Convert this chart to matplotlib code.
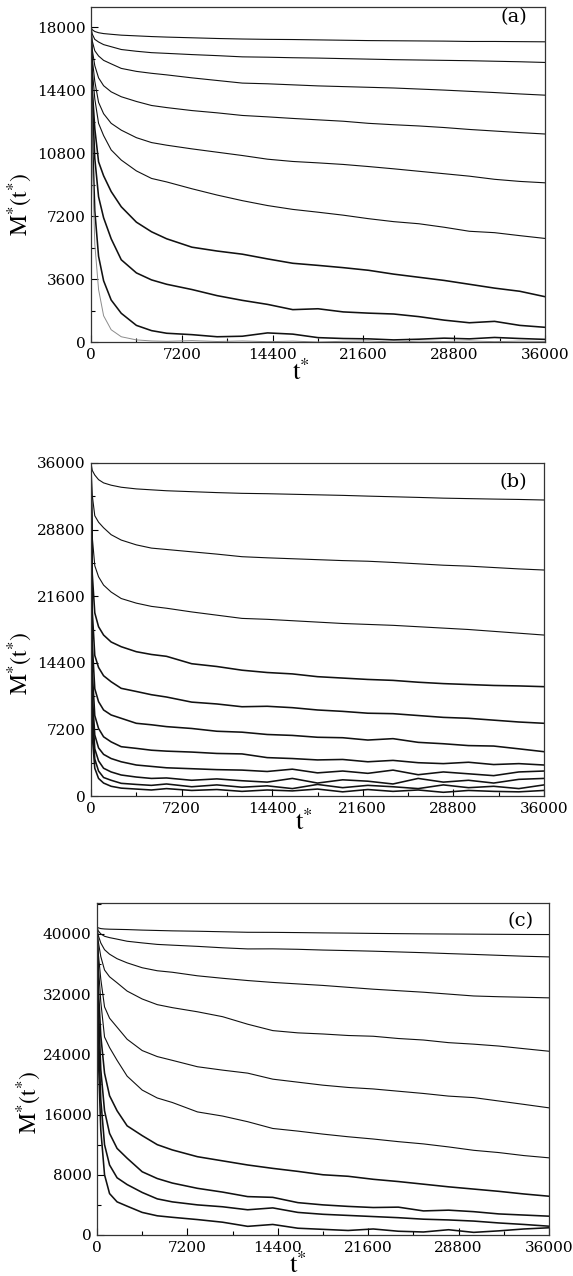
"""Relaxation curves M*(t*) for three system sizes, panels (a)-(c)."""
import matplotlib
import numpy as np

matplotlib.use("Agg")
from matplotlib import pyplot as plt
from matplotlib.ticker import MultipleLocator

# common time grid the curves were read on
t_star = [0, 100, 300, 600, 1000, 1600, 2400, 3600, 4800, 6000, 8000, 10000, 12000,
          14000, 16000, 18000, 20000, 22000, 24000, 26000, 28000, 30000, 32000, 34000, 36000]

# panel (a)
a_curves = [
    [18000, 17850, 17750, 17680, 17630, 17590, 17540, 17500, 17460, 17430, 17390, 17350, 17320,
     17300, 17290, 17270, 17250, 17230, 17220, 17210, 17200, 17180, 17180, 17170, 17160],
    [18000, 17600, 17300, 17150, 17000, 16880, 16720, 16620, 16540, 16500, 16430, 16370, 16300,
     16280, 16250, 16230, 16200, 16170, 16140, 16120, 16100, 16080, 16050, 16020, 15980],
    [18000, 17200, 16650, 16350, 16100, 15900, 15640, 15470, 15360, 15270, 15100, 14950, 14800,
     14760, 14700, 14640, 14600, 14560, 14520, 14460, 14400, 14330, 14260, 14180, 14110],
    [18000, 16700, 15800, 15100, 14650, 14300, 14020, 13750, 13520, 13400, 13230, 13100, 12950,
     12870, 12780, 12700, 12620, 12500, 12420, 12350, 12260, 12150, 12060, 11970, 11890],
    [18000, 16200, 14900, 13700, 13050, 12500, 12110, 11680, 11400, 11250, 11040, 10850, 10660,
     10450, 10320, 10240, 10150, 10030, 9900, 9760, 9620, 9480, 9300, 9180, 9100],
    [18000, 15600, 13900, 12500, 11800, 10980, 10400, 9780, 9350, 9150, 8760, 8400, 8080,
     7800, 7580, 7420, 7250, 7050, 6880, 6760, 6560, 6330, 6250, 6080, 5920],
    [18000, 14500, 12200, 10300, 9500, 8600, 7730, 6850, 6300, 5900, 5420, 5200, 5020,
     4750, 4500, 4380, 4250, 4100, 3880, 3700, 3520, 3300, 3080, 2900, 2590],
    [18000, 14000, 10500, 8300, 7100, 5900, 4700, 3950, 3550, 3300, 3000, 2650, 2380,
     2150, 1850, 1900, 1720, 1650, 1600, 1450, 1250, 1100, 1180, 950, 840],
    [18000, 12000, 7500, 4900, 3500, 2400, 1640, 950, 650, 500, 420, 300, 330,
     520, 450, 250, 200, 180, 120, 160, 220, 180, 260, 200, 150],
    [18000, 10500, 5600, 3000, 1500, 700, 300, 120, 60, 40, 80, 30, 60,
     20, 50, 0, 40, 60, 0, 50, 30, 60, 20, 50, 30],
]

# panel (b)
b_curves = [
    [36000, 35200, 34700, 34200, 33850, 33600, 33380, 33200, 33100, 33000, 32900, 32800, 32720,
     32680, 32620, 32560, 32500, 32420, 32350, 32280, 32200, 32150, 32100, 32060, 32000],
    [36000, 32500, 30300, 29600, 29000, 28250, 27670, 27150, 26800, 26650, 26400, 26150, 25870,
     25750, 25650, 25550, 25450, 25380, 25250, 25100, 24950, 24850, 24700, 24550, 24430],
    [36000, 28000, 24900, 23700, 22800, 22050, 21350, 20850, 20500, 20300, 19900, 19550, 19200,
     19100, 18950, 18800, 18650, 18550, 18450, 18300, 18150, 18000, 17800, 17600, 17400],
    [36000, 24000, 19800, 18300, 17400, 16650, 16140, 15600, 15300, 15100, 14300, 14000, 13600,
     13350, 13200, 12900, 12750, 12600, 12500, 12300, 12150, 12050, 11950, 11900, 11820],
    [36000, 20000, 15200, 13900, 13000, 12350, 11640, 11300, 10950, 10700, 10150, 9950, 9650,
     9700, 9550, 9300, 9150, 8950, 8900, 8700, 8500, 8400, 8200, 8000, 7860],
    [36000, 16500, 11600, 10200, 9300, 8760, 8400, 7860, 7700, 7500, 7300, 7000, 6900,
     6650, 6550, 6350, 6300, 6050, 6200, 5800, 5650, 5450, 5400, 5100, 4790],
    [36000, 13500, 8700, 7300, 6400, 5850, 5330, 5150, 4950, 4850, 4750, 4600, 4550,
     4150, 4050, 3900, 3950, 3700, 3850, 3600, 3500, 3650, 3400, 3500, 3350],
    [36000, 11000, 6600, 5200, 4500, 4050, 3700, 3350, 3200, 3050, 2950, 2850, 2800,
     2650, 2900, 2500, 2700, 2450, 2800, 2300, 2600, 2400, 2200, 2600, 2700],
    [36000, 9500, 5100, 3800, 3000, 2600, 2270, 2050, 1900, 1950, 1700, 1850, 1650,
     1500, 1900, 1400, 1750, 1600, 1300, 1900, 1500, 1700, 1400, 1800, 1900],
    [36000, 8000, 4000, 2700, 2000, 1700, 1370, 1250, 1150, 1300, 1000, 1200, 950,
     1100, 800, 1250, 900, 1150, 1000, 800, 1200, 900, 1050, 800, 1200],
    [36000, 6500, 3000, 1900, 1400, 1050, 850, 750, 650, 800, 600, 700, 500,
     650, 550, 750, 450, 700, 500, 650, 400, 600, 500, 450, 600],
]

# panel (c)
c_curves = [
    [40900, 40800, 40700, 40650, 40620, 40600, 40570, 40500, 40450, 40400, 40350, 40280, 40210,
     40200, 40170, 40130, 40100, 40060, 40030, 40000, 39980, 39960, 39940, 39920, 39910],
    [40900, 40400, 40000, 39680, 39500, 39300, 39020, 38800, 38600, 38500, 38340, 38150, 38000,
     38010, 37950, 37850, 37780, 37700, 37600, 37500, 37380, 37270, 37150, 37030, 36940],
    [40900, 39800, 38800, 37900, 37300, 36700, 36150, 35500, 35100, 34900, 34430, 34100, 33800,
     33550, 33350, 33150, 32900, 32650, 32450, 32250, 32000, 31750, 31650, 31580, 31500],
    [40900, 39000, 37000, 35200, 34300, 33500, 32400, 31350, 30600, 30200, 29650, 29000, 28000,
     27150, 26850, 26700, 26500, 26400, 26100, 25900, 25550, 25350, 25100, 24750, 24410],
    [40900, 37500, 34000, 30300, 28800, 27600, 26000, 24500, 23700, 23200, 22350, 21900, 21500,
     20700, 20300, 19900, 19600, 19400, 19100, 18800, 18450, 18250, 17800, 17350, 16890],
    [40900, 36000, 31000, 26300, 24900, 23200, 21100, 19250, 18200, 17600, 16350, 15800, 15050,
     14150, 13800, 13400, 13050, 12750, 12400, 12100, 11700, 11250, 10950, 10550, 10250],
    [40900, 33000, 26500, 21500, 18500, 16500, 14500, 13200, 12000, 11300, 10400, 9850, 9300,
     8850, 8450, 8000, 7800, 7400, 7100, 6750, 6400, 6100, 5800, 5450, 5150],
    [40900, 31000, 22000, 16500, 13500, 11500, 10200, 8400, 7500, 6900, 6200, 5700, 5100,
     5000, 4300, 4000, 3800, 3650, 3700, 3200, 3300, 3100, 2800, 2650, 2500],
    [40900, 28000, 18000, 12000, 9300, 7600, 6700, 5650, 4800, 4400, 4000, 3750, 3350,
     3600, 3000, 2750, 2600, 2450, 2300, 2100, 2000, 1850, 1600, 1400, 1170],
    [40900, 24000, 14000, 8000, 5500, 4400, 3830, 3000, 2550, 2350, 2050, 1700, 1150,
     1400, 900, 750, 600, 800, 500, 400, 700, 350, 550, 800, 960],
]

x_ticks = [0, 7200, 14400, 21600, 28800, 36000]
a_yticks = [0, 3600, 7200, 10800, 14400, 18000]
b_yticks = [0, 7200, 14400, 21600, 28800, 36000]
c_yticks = [0, 8000, 16000, 24000, 32000, 40000]

plt.rcParams["font.family"] = ["DejaVu Serif"]
plt.rcParams["mathtext.fontset"] = "stix"

W, H = 573, 1276
fig = plt.figure(figsize=(W / 100, H / 100), dpi=100)


def px_axes(left, top, right, bottom):
    return fig.add_axes([left / W, 1 - bottom / H, (right - left) / W, (bottom - top) / H])


def draw_panel(ax, curves, yticks, ymax, tag, tag_xy, xlab_xy, ylab_xy, thick_from):
    for i, vals in enumerate(curves):
        fast = i == len(curves) - 1 and tag == "(a)"
        if fast:
            color, lw = "0.55", 0.7
        else:
            color, lw = "#111111", (1.15 if i >= thick_from else 0.8)
        ax.plot(t_star, vals, color=color, linewidth=lw, solid_joinstyle="round")
    ax.set_xlim(0, 36000)
    ax.set_ylim(0, ymax)
    ax.set_xticks(x_ticks)
    ax.set_yticks(yticks)
    ax.xaxis.set_minor_locator(MultipleLocator(3600))
    ax.yaxis.set_minor_locator(MultipleLocator(yticks[1] / 2))
    ax.tick_params(which="both", direction="in", top=False, right=False,
                   labelsize=11, pad=4, width=0.8)
    ax.tick_params(which="major", length=5)
    ax.tick_params(which="minor", length=3)
    for s in ax.spines.values():
        s.set_linewidth(0.9)
        s.set_color("#333333")
    ax.text(*tag_xy, tag, transform=ax.transAxes, ha="center", va="center", fontsize=14)
    ax.text(*xlab_xy, r"$\mathrm{t^{*}}$", transform=ax.transAxes,
            ha="center", va="center", fontsize=19)
    ax.text(*ylab_xy, r"$\mathrm{M^{*}(t^{*})}$", transform=ax.transAxes,
            ha="center", va="center", rotation=90, fontsize=17)


ax_a = px_axes(91, 7, 545, 342)
draw_panel(ax_a, a_curves, a_yticks, 19150, "(a)",
           (0.932, 0.97), (0.462, -0.09), (-0.156, 0.41), 6)

ax_b = px_axes(91, 463, 544, 796)
draw_panel(ax_b, b_curves, b_yticks, 36000, "(b)",
           (0.932, 0.943), (0.470, -0.078), (-0.156, 0.40), 3)

ax_c = px_axes(97, 903, 549, 1235)
draw_panel(ax_c, c_curves, c_yticks, 44100, "(c)",
           (0.938, 0.946), (0.444, -0.092), (-0.150, 0.40), 6)

fig.savefig("out.png", dpi=100)
plt.close(fig)
